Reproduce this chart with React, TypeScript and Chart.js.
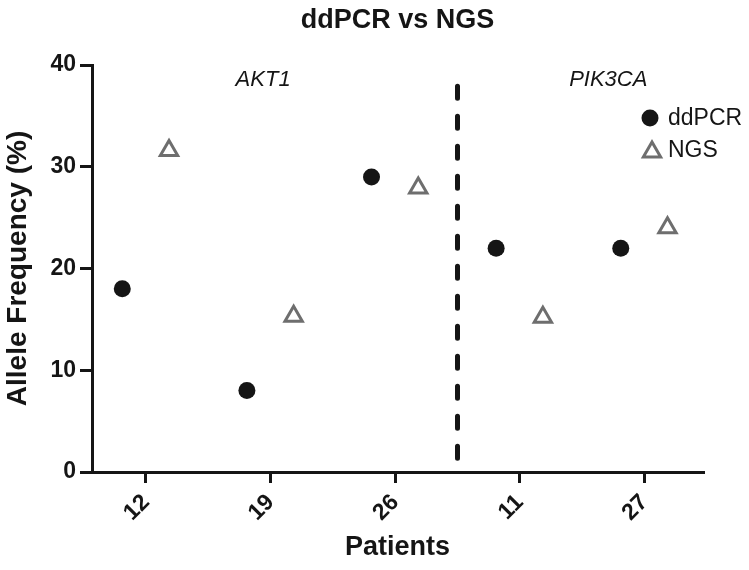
import React, { useEffect, useRef } from 'react';
import { Chart, registerables } from 'chart.js';

Chart.register(...registerables);

// ---- data ----
const chartTitle = 'ddPCR vs NGS';
const patients = ['12', '19', '26', '11', '27'];
const ddpcr = [18, 8, 29, 22, 22];
const ngs = [31.6, 15.3, 27.9, 15.2, 24.0];
const genes = ['AKT1', 'PIK3CA'];
const yTicks = [0, 10, 20, 30, 40];
const separatorY = [37.9, 0];

const FONT = "'Liberation Sans', Arial, Helvetica, sans-serif";
const INK = '#151515';
const GREY = '#6e6e6e';

export default function App() {
  const ref = useRef<HTMLCanvasElement>(null);

  useEffect(() => {
    if (!ref.current) return;

    const overlay = {
      id: 'overlay',
      afterDraw(chart: any) {
        const { ctx, scales, chartArea } = chart;
        const x = scales.x;
        ctx.save();
        // title centred over the plot area
        ctx.font = `bold 27px ${FONT}`;
        ctx.fillStyle = INK;
        ctx.textAlign = 'center';
        ctx.textBaseline = 'middle';
        ctx.fillText(chartTitle, (chartArea.left + chartArea.right) / 2, 21);

        // gene group labels
        ctx.font = `italic 22px ${FONT}`;
        const geneCenters = [0.94, 3.71];
        genes.forEach((g, i) => ctx.fillText(g, x.getPixelForValue(geneCenters[i]), 80));

        // legend
        const ds = chart.data.datasets;
        ctx.textAlign = 'left';
        ctx.font = `23px ${FONT}`;
        // ddPCR
        ctx.beginPath();
        ctx.arc(650, 118, 8.5, 0, Math.PI * 2);
        ctx.fillStyle = ds[0].backgroundColor;
        ctx.fill();
        ctx.fillStyle = INK;
        ctx.fillText(ds[0].label, 668, 119);
        // NGS
        const r = 10;
        const cx = 652, cy = 152;
        ctx.beginPath();
        for (let k = 0; k < 3; k++) {
          const a = (k * 2 * Math.PI) / 3;
          const px = cx + Math.sin(a) * r;
          const py = cy - Math.cos(a) * r;
          if (k === 0) ctx.moveTo(px, py); else ctx.lineTo(px, py);
        }
        ctx.closePath();
        ctx.fillStyle = '#ffffff';
        ctx.fill();
        ctx.lineWidth = 3;
        ctx.strokeStyle = ds[1].borderColor;
        ctx.stroke();
        ctx.fillStyle = INK;
        ctx.fillText(ds[1].label, 668, 151);
        ctx.restore();
      },
    };

    const chart = new Chart(ref.current, {
      type: 'scatter',
      data: {
        datasets: [
          {
            label: 'ddPCR',
            data: ddpcr.map((v, i) => ({ x: i - 0.19, y: v })),
            pointStyle: 'circle',
            pointRadius: 8.5,
            backgroundColor: INK,
            borderColor: INK,
            borderWidth: 0,
          },
          {
            label: 'NGS',
            data: ngs.map((v, i) => ({ x: i + 0.185, y: v })),
            pointStyle: 'triangle',
            pointRadius: 10,
            backgroundColor: '#ffffff',
            borderColor: GREY,
            borderWidth: 3,
          },
          {
            label: 'separator',
            data: separatorY.map((v) => ({ x: 2.5, y: v })),
            showLine: true,
            pointRadius: 0,
            borderColor: INK,
            borderWidth: 5,
            borderDash: [12, 18],
            borderCapStyle: 'round',
          },
        ],
      },
      options: {
        responsive: false,
        animation: false,
        layout: { padding: { left: 0, right: 46, top: 65, bottom: 0 } },
        plugins: {
          legend: { display: false },
          tooltip: { enabled: false },
          title: { display: false },
        },
        scales: {
          x: {
            type: 'linear',
            min: -0.433,
            max: 4.47,
            afterBuildTicks: (s: any) => {
              s.ticks = patients.map((_, i) => ({ value: i }));
            },
            afterFit: (s: any) => {
              s.height = 98;
            },
            ticks: {
              callback: (v: any) => patients[v],
              color: INK,
              font: { family: FONT, size: 23, weight: 'bold' },
              minRotation: 45,
              maxRotation: 45,
              autoSkip: false,
              padding: 6,
            },
            grid: {
              display: true,
              drawOnChartArea: false,
              drawTicks: true,
              tickLength: 11,
              lineWidth: 3,
              color: INK,
            },
            border: { display: true, width: 3, color: INK },
            title: {
              display: true,
              text: 'Patients',
              color: INK,
              font: { family: FONT, size: 27, weight: 'bold' },
              padding: { top: 0, bottom: 6 },
            },
          },
          y: {
            min: 0,
            max: 40,
            afterBuildTicks: (s: any) => {
              s.ticks = yTicks.map((v) => ({ value: v }));
            },
            afterFit: (s: any) => {
              s.width = 92;
            },
            ticks: {
              color: INK,
              font: { family: FONT, size: 23, weight: 'bold' },
              padding: 4,
            },
            grid: {
              display: true,
              drawOnChartArea: false,
              drawTicks: true,
              tickLength: 12,
              lineWidth: 3,
              color: INK,
            },
            border: { display: true, width: 3, color: INK },
            title: {
              display: true,
              text: 'Allele Frequency (%)',
              color: INK,
              font: { family: FONT, size: 28, weight: 'bold' },
              padding: { top: 1, bottom: 0 },
            },
          },
        },
      },
      plugins: [overlay],
    } as any);

    return () => chart.destroy();
  }, []);

  return (
    <div style={{ position: 'absolute', left: 0, top: 0, width: 749, height: 570 }}>
      <canvas ref={ref} width={749} height={570} style={{ display: 'block', width: 749, height: 570 }} />
    </div>
  );
}
